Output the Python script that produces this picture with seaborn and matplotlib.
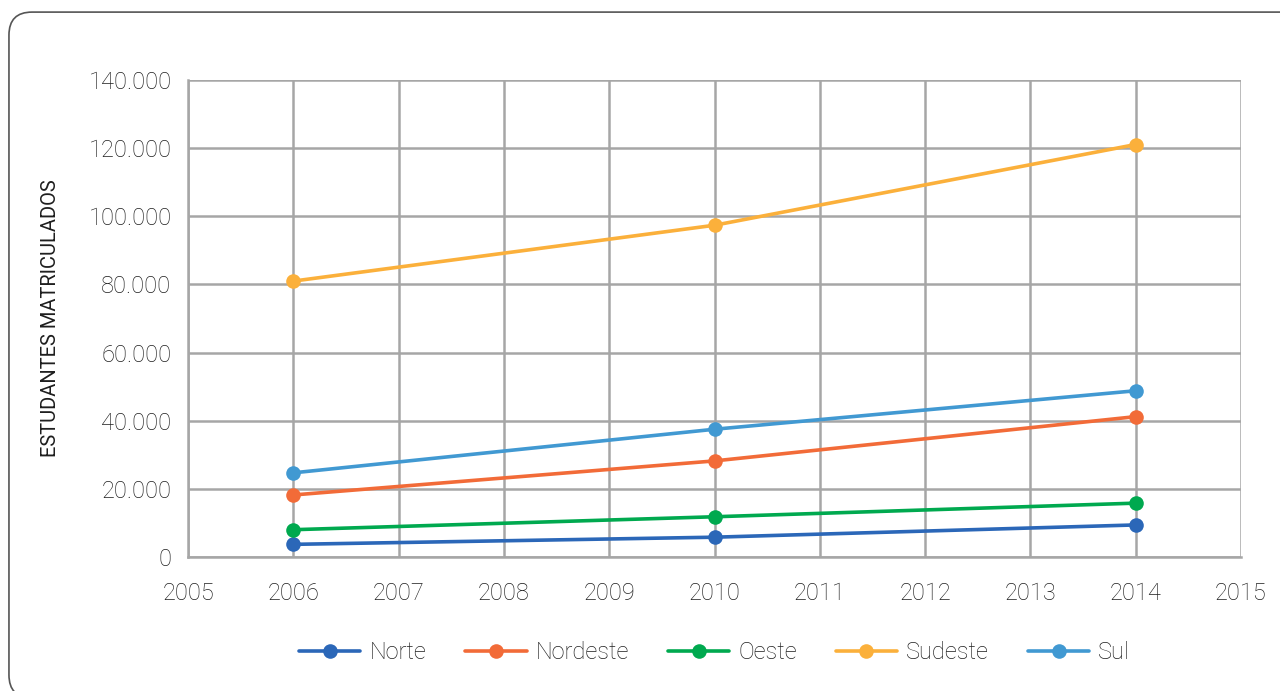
import matplotlib
matplotlib.use("Agg")
import matplotlib.pyplot as plt
import seaborn as sns
import pandas as pd
from matplotlib.patches import FancyBboxPatch
from matplotlib.ticker import FuncFormatter

anos = [2006, 2010, 2014]
norte = [3700, 5800, 9400]
nordeste = [18200, 28200, 41200]
oeste = [8000, 11800, 15800]
sudeste = [81000, 97400, 121100]
sul = [24700, 37500, 48800]
regioes = ["Norte", "Nordeste", "Oeste", "Sudeste", "Sul"]
cores = ["#2B67B8", "#F26B38", "#00A94F", "#FBB03B", "#4199D2"]

df = pd.DataFrame({"Ano": anos * 5,
                   "Valor": norte + nordeste + oeste + sudeste + sul,
                   "Região": [r for r in regioes for _ in anos]})

sns.set_style("white")
plt.rcParams['font.family'] = ['Roboto', 'DejaVu Sans']
plt.rcParams['font.weight'] = 'light'
txt = "#1E1E1E"

fig = plt.figure(figsize=(12.8, 6.91), dpi=100)
ax = fig.add_axes([0.147, 0.194, 0.8225, 0.690])

sns.lineplot(data=df, x="Ano", y="Valor", hue="Região", hue_order=regioes,
             palette=cores, marker="o", markersize=10.5, markeredgewidth=0,
             linewidth=2.6, ax=ax, legend=True)

ax.set_xlim(2005, 2015)
ax.set_ylim(0, 140000)
ax.set_xticks(range(2005, 2016))
ax.set_yticks(range(0, 140001, 20000))
ax.yaxis.set_major_formatter(FuncFormatter(lambda v, p: f"{int(v):,}".replace(",", ".")))
ax.grid(True, color="#A6A6A6", linewidth=1.8)
ax.set_axisbelow(True)
for s in ["top", "right"]:
    ax.spines[s].set_visible(False)
for s in ["left", "bottom"]:
    ax.spines[s].set_color("#A6A6A6")
    ax.spines[s].set_linewidth(1.8)
ax.tick_params(axis="both", length=0, labelsize=17, colors=txt)
ax.tick_params(axis="x", pad=18)
ax.tick_params(axis="y", pad=12)
ax.set_xlabel("")
ax.set_ylabel("ESTUDANTES MATRICULADOS", fontsize=14.5, color=txt)
ax.yaxis.set_label_coords(-0.1215, 0.5)

h, l = ax.get_legend_handles_labels()
ax.legend(h, l, loc="center", bbox_to_anchor=(0.5, -0.201), ncol=5,
          frameon=False, fontsize=17, handlelength=2.6, columnspacing=1.65,
          handletextpad=0.38, labelcolor=txt)

box = FancyBboxPatch((0.007, -0.01), 1.2, 0.9925, boxstyle="round,pad=0,rounding_size=0.018",
                     transform=fig.transFigure, facecolor="none", edgecolor="#555555",
                     linewidth=1.2, mutation_aspect=1.85)
fig.patches.append(box)

fig.savefig("out.png", dpi=100)
